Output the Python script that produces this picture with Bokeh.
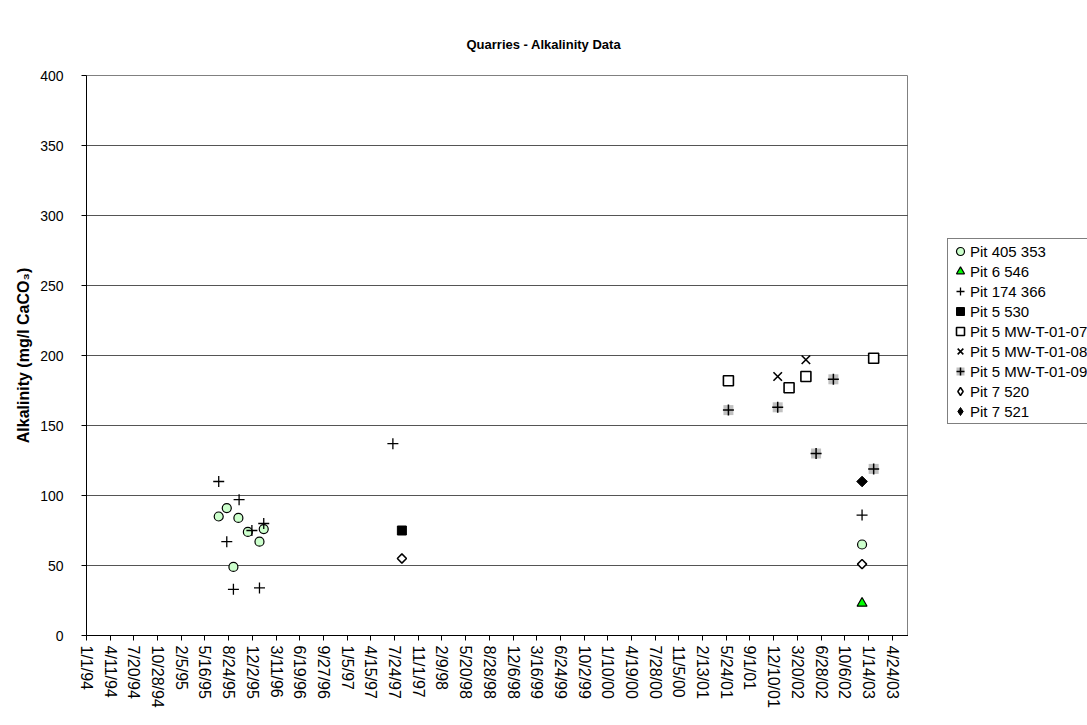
import math
import pandas as pd
from bokeh.plotting import figure
from bokeh.layouts import row
from bokeh.models import Range1d, FixedTicker, Legend, LegendItem
from bokeh.embed import file_html
from bokeh.resources import INLINE

FONT = "Liberation Sans"
ORIGIN = pd.Timestamp("1994-01-01")

# x-axis tick labels (one every 100 days)
tick_labels = [
    "1/1/94", "4/11/94", "7/20/94", "10/28/94", "2/5/95", "5/16/95", "8/24/95",
    "12/2/95", "3/11/96", "6/19/96", "9/27/96", "1/5/97", "4/15/97", "7/24/97",
    "11/1/97", "2/9/98", "5/20/98", "8/28/98", "12/6/98", "3/16/99", "6/24/99",
    "10/2/99", "1/10/00", "4/19/00", "7/28/00", "11/5/00", "2/13/01", "5/24/01",
    "9/1/01", "12/10/01", "3/20/02", "6/28/02", "10/6/02", "1/14/03", "4/24/03",
]
x_end = "7/2/03"
y_ticks = [0, 50, 100, 150, 200, 250, 300, 350, 400]

# sample dates and alkalinity (mg/l CaCO3) per well
pit405_353_dates = ["7/13/95", "8/16/95", "9/13/95", "10/4/95", "11/13/95", "1/1/96", "1/19/96", "12/18/02"]
pit405_353_vals = [85, 91, 49, 84, 74, 67, 76, 65]

pit6_546_dates = ["12/18/02"]
pit6_546_vals = [23]

pit174_366_dates = ["7/13/95", "8/16/95", "9/13/95", "10/7/95", "11/30/95", "1/1/96", "1/19/96", "7/17/97", "12/18/02"]
pit174_366_vals = [110, 67, 33, 97, 75, 34, 80, 137, 86]

pit5_530_dates = ["8/24/97"]
pit5_530_vals = [75]

mw07_dates = ["6/2/01", "2/13/02", "4/25/02", "2/5/03"]
mw07_vals = [182, 177, 185, 198]

mw08_dates = ["12/27/01", "4/25/02"]
mw08_vals = [185, 197]

mw09_dates = ["6/2/01", "12/27/01", "6/7/02", "8/19/02", "2/5/03"]
mw09_vals = [161, 163, 130, 183, 119]

pit7_520_dates = ["8/24/97", "12/18/02"]
pit7_520_vals = [55, 51]

pit7_521_dates = ["12/18/02"]
pit7_521_vals = [110]

series_names = [
    "Pit 405 353", "Pit 6 546", "Pit 174 366", "Pit 5 530", "Pit 5 MW-T-01-07",
    "Pit 5 MW-T-01-08", "Pit 5 MW-T-01-09", "Pit 7 520", "Pit 7 521",
]


def days(dates):
    """Days elapsed since 1/1/94 for m/d/yy strings."""
    return [int(d) for d in (pd.to_datetime(dates, format="%m/%d/%y") - ORIGIN).days]


# marker styles, one list of layers per series
# (diamonds are squares turned 45 degrees; the legend swatch, which
# ignores the angle, uses Bokeh's diamond marker instead)
DIAMOND = math.pi / 4
styles = [
    [dict(marker="circle", size=9, fill_color="#CCFFCC", line_color="black", line_width=1.2)],
    [dict(marker="triangle", size=10, fill_color="#00FF00", line_color="black", line_width=1.2)],
    [dict(marker="cross", size=11, line_color="black", line_width=1.3)],
    [dict(marker="square", size=9, fill_color="black", line_color="black")],
    [dict(marker="square", size=10, fill_color="white", line_color="black", line_width=1.6)],
    [dict(marker="x", size=12, line_color="black", line_width=1.6)],
    [dict(marker="square", size=10, fill_color="#C0C0C0", line_color=None),
     dict(marker="cross", size=11, line_color="black", line_width=1.5)],
    [dict(marker="square", size=6.5, angle=DIAMOND, fill_color="white", line_color="black", line_width=1.5)],
    [dict(marker="square", size=7.5, angle=DIAMOND, fill_color="black", line_color="black")],
]
series_data = [
    (pit405_353_dates, pit405_353_vals),
    (pit6_546_dates, pit6_546_vals),
    (pit174_366_dates, pit174_366_vals),
    (pit5_530_dates, pit5_530_vals),
    (mw07_dates, mw07_vals),
    (mw08_dates, mw08_vals),
    (mw09_dates, mw09_vals),
    (pit7_520_dates, pit7_520_vals),
    (pit7_521_dates, pit7_521_vals),
]


def swatch_style(st):
    st = dict(st)
    if st.pop("angle", None) is not None:
        st["marker"] = "diamond"
    return st


tick_pos = days(tick_labels)

p = figure(
    width=908, height=725,
    min_border_left=86, min_border_right=0, min_border_top=75, min_border_bottom=90,
    x_range=Range1d(0, days([x_end])[0]), y_range=Range1d(0, 400),
    output_backend="svg", toolbar_location=None,
    title="Quarries - Alkalinity Data",
)
p.background_fill_color = "white"
p.border_fill_color = "white"
p.outline_line_color = "#808080"
p.outline_line_width = 1

p.title.align = "left"
p.title.offset = 380
p.title.standoff = 48
p.title.text_font = FONT
p.title.text_font_size = "13px"
p.title.text_font_style = "bold"
p.title.text_color = "black"

# axes
xa = p.xaxis[0]
xa.ticker = FixedTicker(ticks=tick_pos)
xa.major_label_overrides = {t: lab for t, lab in zip(tick_pos, tick_labels)}
xa.major_label_orientation = "vertical"
xa.major_label_text_font = FONT
xa.major_label_text_font_size = "16px"
xa.major_label_text_color = "black"
xa.major_label_standoff = 5
xa.major_tick_out = 5
xa.major_tick_in = 0
xa.minor_tick_line_color = None
xa.axis_line_color = "black"
xa.major_tick_line_color = "black"

ya = p.yaxis[0]
ya.ticker = FixedTicker(ticks=y_ticks)
ya.major_label_text_font = FONT
ya.major_label_text_font_size = "14px"
ya.major_label_text_color = "black"
ya.major_label_standoff = 18
ya.major_tick_out = 5
ya.major_tick_in = 0
ya.minor_tick_line_color = None
ya.axis_line_color = "black"
ya.major_tick_line_color = "black"
ya.axis_label = "Alkalinity (mg/l CaCO\u2083)"
ya.axis_label_text_font = FONT
ya.axis_label_text_font_size = "16px"
ya.axis_label_text_font_style = "bold"
ya.axis_label_text_color = "black"
ya.axis_label_standoff = 5

p.xgrid.grid_line_color = None
p.ygrid.grid_line_color = "#555555"
p.ygrid.grid_line_width = 1

# data marks
for (dates, vals), layers in zip(series_data, styles):
    for st in layers:
        p.scatter(days(dates), vals, **st)

# legend panel to the right of the plot; its own ranges keep the
# series' points out of view so only the legend swatches show
lp = figure(
    width=179, height=725, min_border=0,
    x_axis_location=None, y_axis_location=None,
    x_range=Range1d(-2, -1), y_range=Range1d(-2, -1),
    output_backend="svg", toolbar_location=None,
)
lp.background_fill_color = "white"
lp.border_fill_color = "white"
lp.outline_line_color = None
lp.grid.visible = False

items = []
for name, (dates, vals), layers in zip(series_names, series_data, styles):
    rs = [lp.scatter(days(dates), vals, **swatch_style(st)) for st in layers]
    items.append(LegendItem(label=name, renderers=rs))

legend = Legend(
    items=items,
    location=(39, 211),
    label_text_font=FONT, label_text_font_size="15px", label_text_color="black",
    glyph_width=20, glyph_height=20, label_height=20, label_standoff=-1,
    spacing=0, padding=2, margin=0,
    border_line_color="black", border_line_width=1,
    background_fill_color="white", background_fill_alpha=1,
)
lp.add_layout(legend)

layout = row(p, lp)
open("out.html", "w").write(file_html(layout, INLINE))
